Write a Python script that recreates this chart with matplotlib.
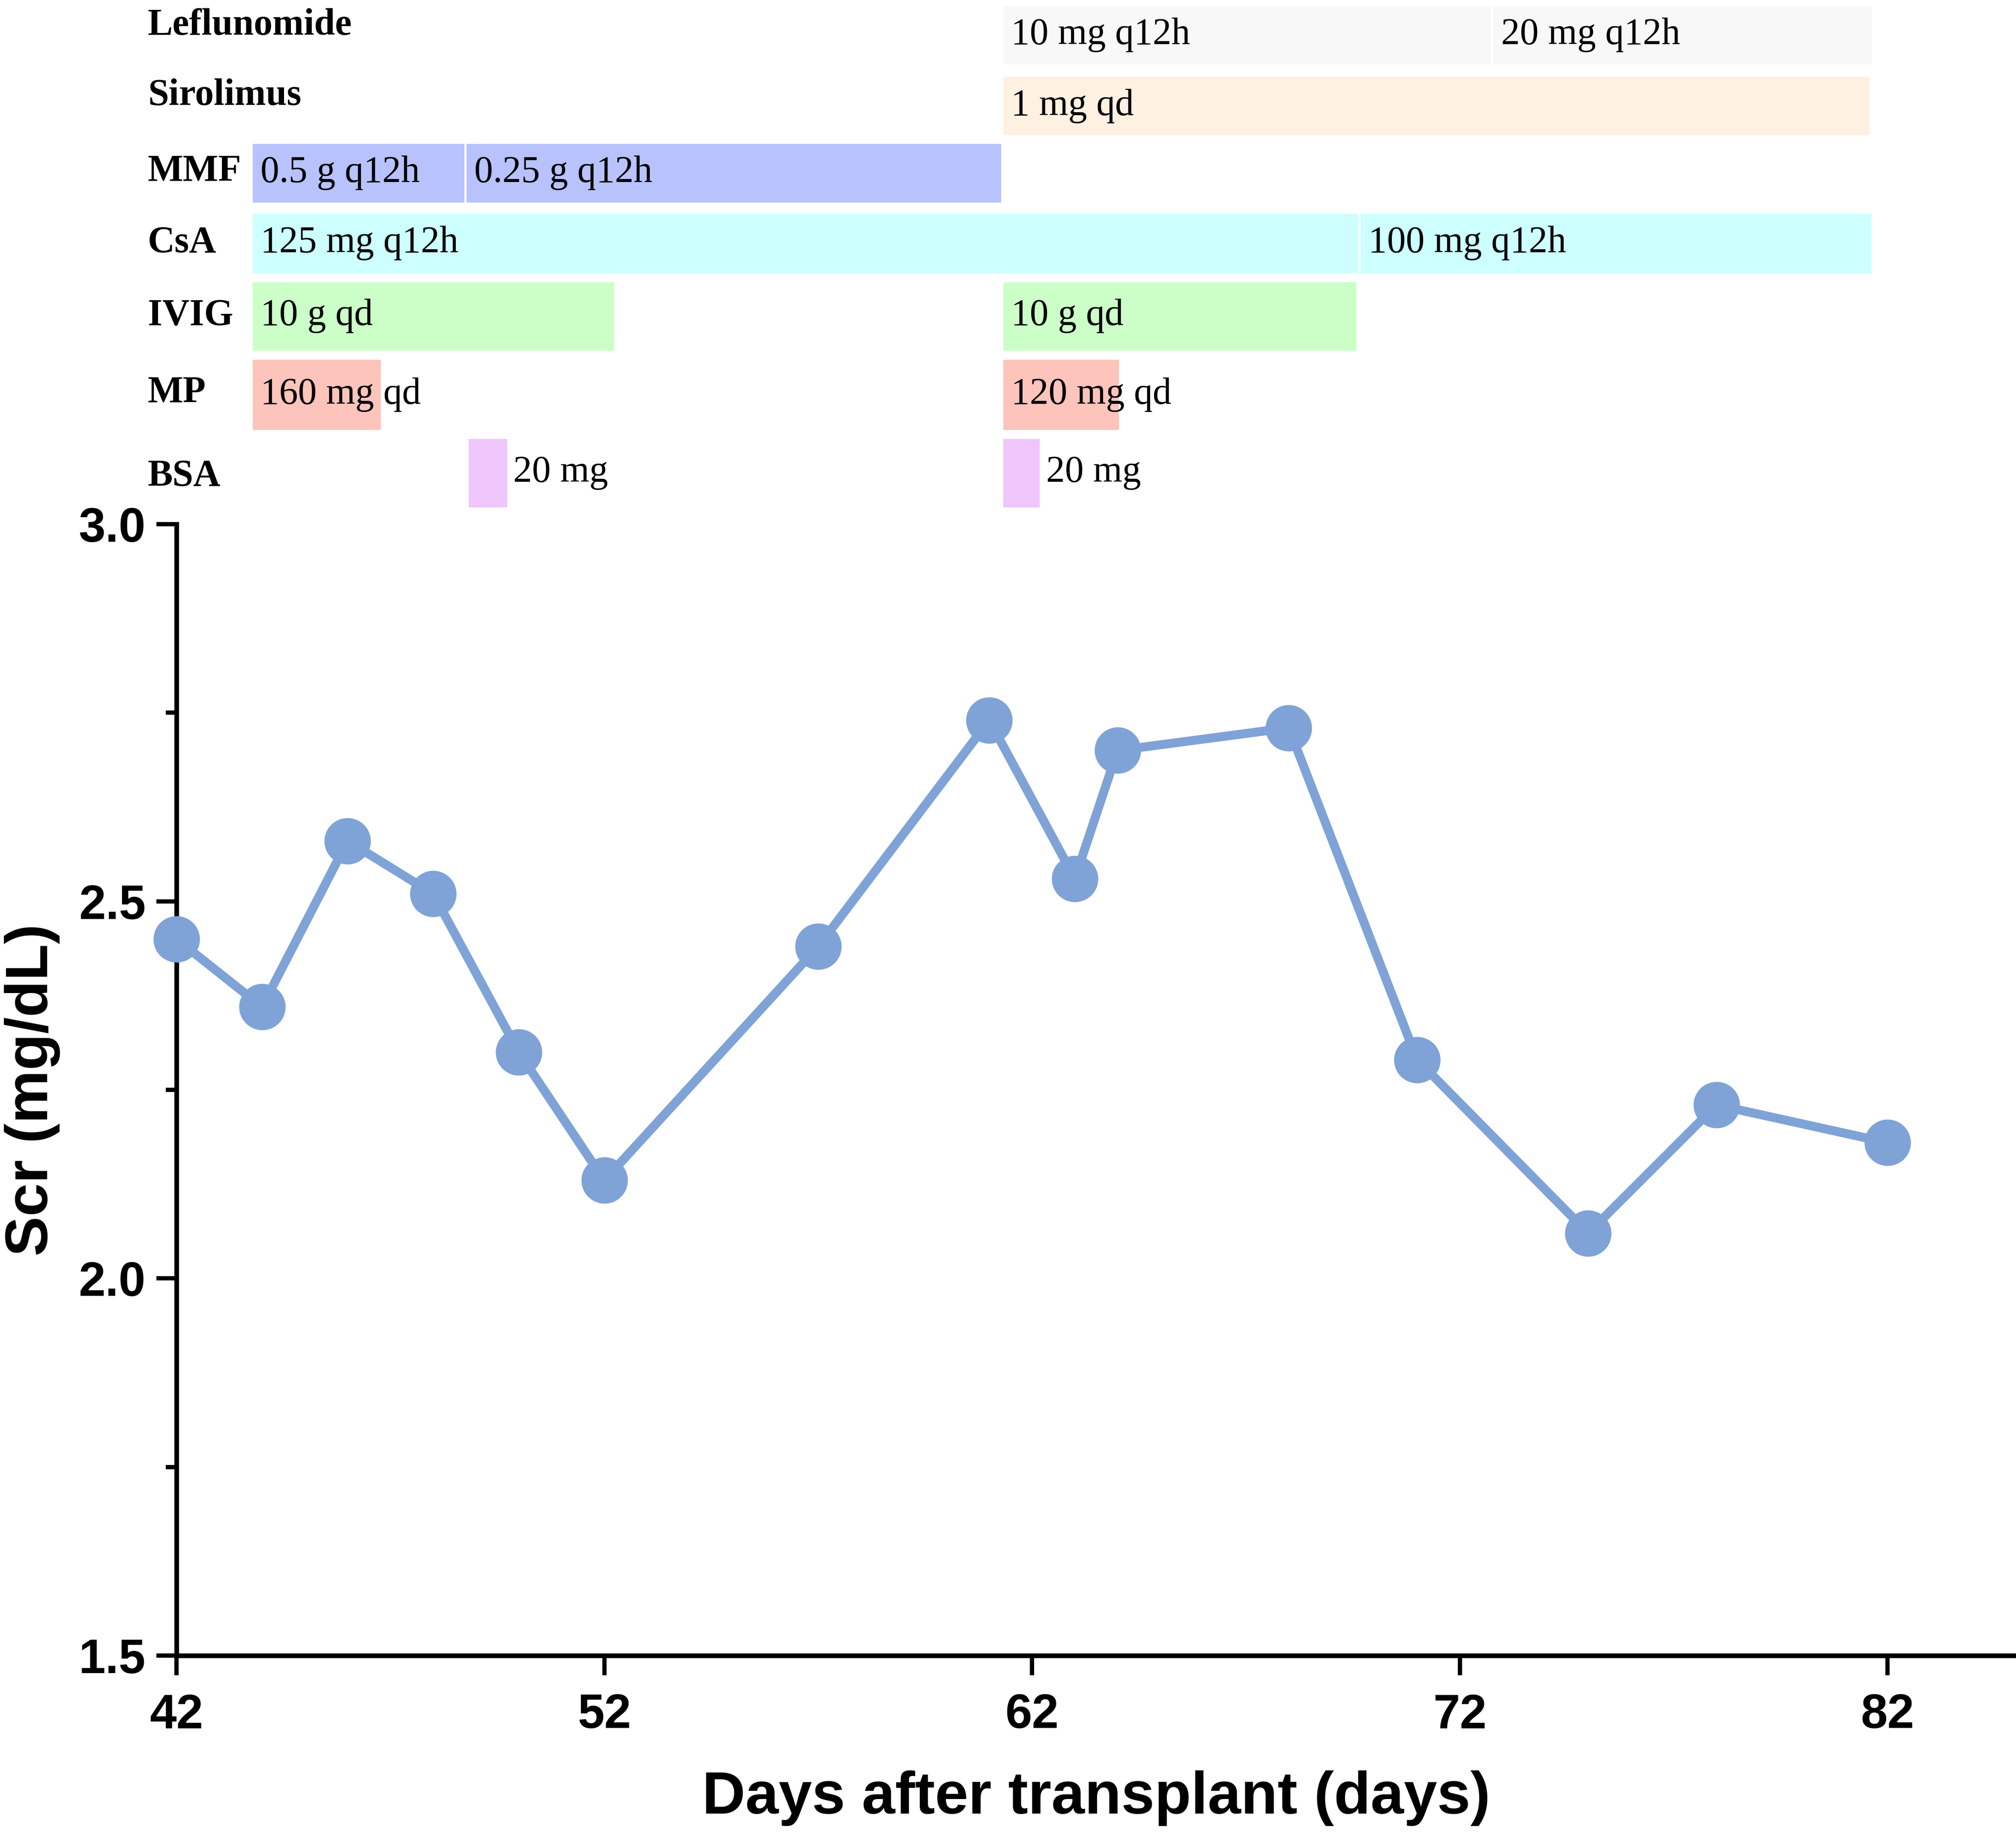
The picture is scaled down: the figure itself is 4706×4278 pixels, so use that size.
import numpy as np
import matplotlib
matplotlib.use("Agg")
from matplotlib import pyplot as plt
from matplotlib import transforms

# serum creatinine over time
days = [42, 44, 46, 48, 50, 52, 57, 61, 63, 64, 68, 71, 75, 78, 82]
scr = [2.45, 2.36, 2.58, 2.51, 2.30, 2.13, 2.44, 2.74, 2.53, 2.70, 2.73, 2.29, 2.06, 2.23, 2.18]

# treatment regimen, one list of (start day, end day, dose) per drug
drugs = ["Leflunomide", "Sirolimus", "MMF", "CsA", "IVIG", "MP", "BSA"]
leflunomide = [(61.3, 72.75, "10 mg q12h"), (72.75, 81.65, "20 mg q12h")]
sirolimus = [(61.3, 81.6, "1 mg qd")]
mmf = [(43.75, 48.75, "0.5 g q12h"), (48.75, 61.3, "0.25 g q12h")]
csa = [(43.75, 69.65, "125 mg q12h"), (69.65, 81.65, "100 mg q12h")]
ivig = [(43.75, 52.25, "10 g qd"), (61.3, 69.6, "10 g qd")]
mp = [(43.75, 46.8, "160 mg qd"), (61.3, 64.05, "120 mg qd")]
bsa = [(48.8, 49.75, "20 mg"), (61.3, 62.2, "20 mg")]
regimen = [leflunomide, sirolimus, mmf, csa, ivig, mp, bsa]
colors = ["#f8f8f8", "#fef1e2", "#b8c2fc", "#ccfffe", "#ccffc8", "#fdc4bc", "#eec6fc"]

W, H = 4706, 4278
DPI = 300
fig = plt.figure(figsize=(W / DPI, H / DPI), dpi=DPI)

left = 412 / W
ax = fig.add_axes([left, 1 - 3866 / H, 1 - left, (3866 - 1224) / H])
top = fig.add_axes([left, 1 - 1200 / H, 1 - left, 1200 / H], sharex=ax)

# main line
ax.plot(days, scr, color="#7fa3d6", lw=5, marker="o", ms=26,
        markeredgewidth=0, clip_on=False, zorder=3)

ax.set_xlim(42, 85)
ax.set_ylim(1.5, 3.0)
ax.set_xticks([42, 52, 62, 72, 82])
ax.set_yticks([1.5, 2.0, 2.5, 3.0])
ax.set_yticks(np.arange(1.5, 3.01, 0.25), minor=True)
for s in ["top", "right"]:
    ax.spines[s].set_visible(False)
for s in ["left", "bottom"]:
    ax.spines[s].set_linewidth(2.6)
ax.tick_params(axis="x", length=11, width=2.4, pad=10)
ax.tick_params(axis="y", which="major", length=11.3, width=2.4, pad=6)
ax.tick_params(axis="y", which="minor", length=6, width=2.4)
for lab in ax.get_xticklabels() + ax.get_yticklabels():
    lab.set_fontfamily("Liberation Sans")
    lab.set_fontweight("bold")
    lab.set_fontsize(27)
ax.yaxis.set_major_formatter(matplotlib.ticker.FormatStrFormatter("%.1f"))
ax.set_xlabel("Days after transplant (days)", fontsize=33.5, fontweight="bold",
              family="Liberation Sans", labelpad=18)
ax.set_ylabel("Scr (mg/dL)", fontsize=33.5, fontweight="bold", family="Liberation Sans")
ax.yaxis.set_label_coords(-0.063, 0.5)

# regimen panel (y in pixel rows from the top)
row_y = [82, 247, 404, 568, 738, 921, 1104]
row_h = [140, 142, 142, 144, 165, 169, 165]
label_y = [60, 223, 400, 567, 738, 917, 1112]
top.set_ylim(1200, 0)
top.axis("off")
lab_tr = transforms.blended_transform_factory(fig.transFigure, top.transData)
for i, (name, segs) in enumerate(zip(drugs, regimen)):
    top.text(345 / W, label_y[i], name, transform=lab_tr, ha="left", va="center",
             family="Liberation Serif", fontweight="bold", fontsize=21)
    for start, end, dose in segs:
        top.barh(row_y[i], end - start, left=start, height=row_h[i],
                 color=colors[i], edgecolor="white", linewidth=1.2)
        if name == "BSA":
            top.annotate(dose, (end, row_y[i]), xytext=(3, 0), textcoords="offset points",
                         ha="left", va="center", family="Liberation Serif", fontsize=21)
        else:
            top.annotate(dose, (start, row_y[i]), xytext=(5, 0), textcoords="offset points",
                         ha="left", va="center", family="Liberation Serif", fontsize=21)

fig.savefig("out.png", dpi=DPI)
